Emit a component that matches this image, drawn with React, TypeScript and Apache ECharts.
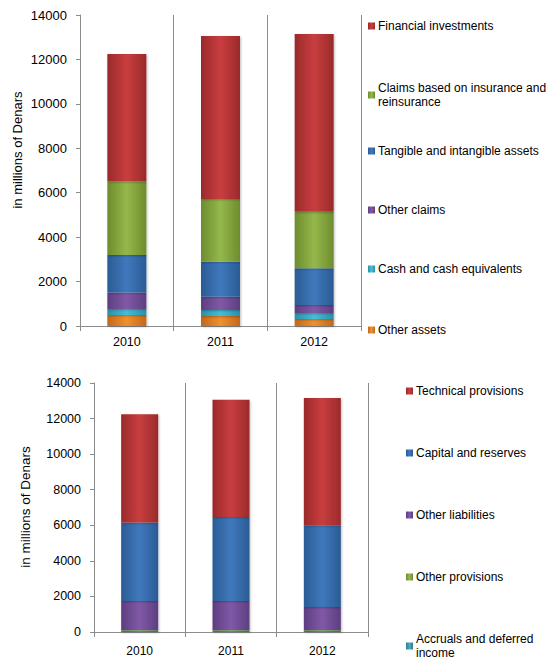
import React, { useEffect, useRef } from "react";
import * as echarts from "echarts";

// ---- Data ----
const years = ["2010", "2011", "2012"];

// Assets (bottom to top)
const otherAssets = [500, 450, 320];
const cashEquivalents = [270, 270, 265];
const otherClaims = [740, 600, 360];
const tangibleAssets = [1690, 1575, 1650];
const insuranceClaims = [3300, 2820, 2550];
const financialInvestments = [5750, 7340, 8000];

// Liabilities (bottom to top)
const accruals = [80, 80, 80];
const otherProvisions = [30, 30, 30];
const otherLiabilities = [1640, 1640, 1290];
const capitalReserves = [4400, 4716, 4600];
const technicalProvisions = [6100, 6594, 7160];

const yMax = 14000;
const yStep = 2000;
const axisName = "in millions of Denars";

const FONT = "Liberation Sans";

function grad(dark: string, light: string) {
  return new echarts.graphic.LinearGradient(0, 0, 1, 0, [
    { offset: 0, color: dark },
    { offset: 0.5, color: light },
    { offset: 1, color: dark },
  ]);
}

const C = {
  red: ["#9a2a2b", "#c93e3f"],
  green: ["#6d8c2e", "#95b84b"],
  blue: ["#2b5b94", "#3f79bd"],
  purple: ["#5d3e80", "#8159a6"],
  cyan: ["#2a8fa7", "#45bfd9"],
  orange: ["#c0691a", "#f0902f"],
  teal: ["#2f7f93", "#4aa9bf"],
};

export default function App() {
  const ref = useRef<HTMLDivElement>(null);
  useEffect(() => {
    if (!ref.current) return;
    const chart = echarts.init(ref.current, undefined, { renderer: "svg" });

    const mkBar = (name: string, data: number[], col: string[], axis: number, stack: string, width: number) => ({
      name,
      type: "bar",
      stack,
      xAxisIndex: axis,
      yAxisIndex: axis,
      barWidth: width,
      data,
      itemStyle: {
        color: grad(col[0], col[1]),
        shadowColor: "rgba(0,0,0,0.25)",
        shadowBlur: 2,
        shadowOffsetX: 1,
        shadowOffsetY: 1,
      },
    });

    const xAxisBase = (gridIndex: number, margin: number, fs: number) => ({
      type: "category",
      gridIndex,
      data: years,
      boundaryGap: true,
      axisLine: { lineStyle: { color: "#8c8c8c", width: 1 } },
      axisTick: { show: true, length: 5, interval: 0, lineStyle: { color: "#8c8c8c" } },
      splitLine: { show: true, interval: 0, lineStyle: { color: "#8c8c8c", width: 1 } },
      axisLabel: { color: "#000", fontFamily: FONT, fontSize: fs, margin },
    });

    const yAxisBase = (gridIndex: number, fs: number) => ({
      type: "value",
      gridIndex,
      min: 0,
      max: yMax,
      interval: yStep,
      axisLine: { show: true, lineStyle: { color: "#8c8c8c", width: 1 } },
      axisTick: { show: true, length: 4, lineStyle: { color: "#8c8c8c" } },
      splitLine: { show: false },
      axisLabel: {
        color: "#000",
        fontFamily: FONT,
        fontSize: fs,
        margin: 13,
        formatter: (v: number) => String(v),
      },
    });

    const legendItem = (name: string, left: number, top: number, fs: number) => ({
      data: [name],
      left,
      top,
      orient: "vertical",
      icon: "rect",
      itemWidth: 7,
      itemHeight: 7,
      itemGap: 0,
      padding: 0,
      selectedMode: false,
      formatter: (n: string) =>
        n === "Claims based on insurance and reinsurance"
          ? "Claims based on insurance and\nreinsurance"
          : n === "Accruals and deferred income"
          ? "Accruals and deferred\nincome"
          : n,
      textStyle: { color: "#000", fontFamily: FONT, fontSize: fs, lineHeight: 14, padding: [0, 0, 0, -2] },
    });

    chart.setOption({
      animation: false,
      grid: [
        { left: 80, top: 15, width: 281, height: 311 },
        { left: 94, top: 383, width: 274, height: 249 },
      ],
      xAxis: [xAxisBase(0, 9, 12.5), xAxisBase(1, 13, 12)],
      yAxis: [yAxisBase(0, 13), yAxisBase(1, 12.5)],
      legend: [
        legendItem("Financial investments", 368, 19, 12),
        legendItem("Claims based on insurance and reinsurance", 368, 81, 12),
        legendItem("Tangible and intangible assets", 368, 144, 12),
        legendItem("Other claims", 368, 203, 12),
        legendItem("Cash and cash equivalents", 368, 262, 12),
        legendItem("Other assets", 368, 323, 12),
        legendItem("Technical provisions", 406, 384, 12),
        legendItem("Capital and reserves", 406, 446, 12),
        legendItem("Other liabilities", 406, 508, 12),
        legendItem("Other provisions", 406, 570, 12),
        legendItem("Accruals and deferred income", 406, 632, 12),
      ],
      graphic: [
        {
          type: "text",
          x: 17,
          y: 150,
          rotation: Math.PI / 2,
          style: { text: axisName, fill: "#000", font: `13px "${FONT}"`, align: "center", verticalAlign: "middle" },
        },
        {
          type: "text",
          x: 25,
          y: 507,
          rotation: Math.PI / 2,
          style: { text: axisName, fill: "#000", font: `13.5px "${FONT}"`, align: "center", verticalAlign: "middle" },
        },
      ],
      series: [
        mkBar("Other assets", otherAssets, C.orange, 0, "a", 39),
        mkBar("Cash and cash equivalents", cashEquivalents, C.cyan, 0, "a", 39),
        mkBar("Other claims", otherClaims, C.purple, 0, "a", 39),
        mkBar("Tangible and intangible assets", tangibleAssets, C.blue, 0, "a", 39),
        mkBar("Claims based on insurance and reinsurance", insuranceClaims, C.green, 0, "a", 39),
        mkBar("Financial investments", financialInvestments, C.red, 0, "a", 39),
        mkBar("Accruals and deferred income", accruals, C.teal, 1, "l", 37),
        mkBar("Other provisions", otherProvisions, C.green, 1, "l", 37),
        mkBar("Other liabilities", otherLiabilities, C.purple, 1, "l", 37),
        mkBar("Capital and reserves", capitalReserves, C.blue, 1, "l", 37),
        mkBar("Technical provisions", technicalProvisions, C.red, 1, "l", 37),
      ],
    });
    return () => chart.dispose();
  }, []);

  return (
    <div
      ref={ref}
      style={{ position: "fixed", left: 0, top: 0, width: 549, height: 660, background: "#fff" }}
    />
  );
}
